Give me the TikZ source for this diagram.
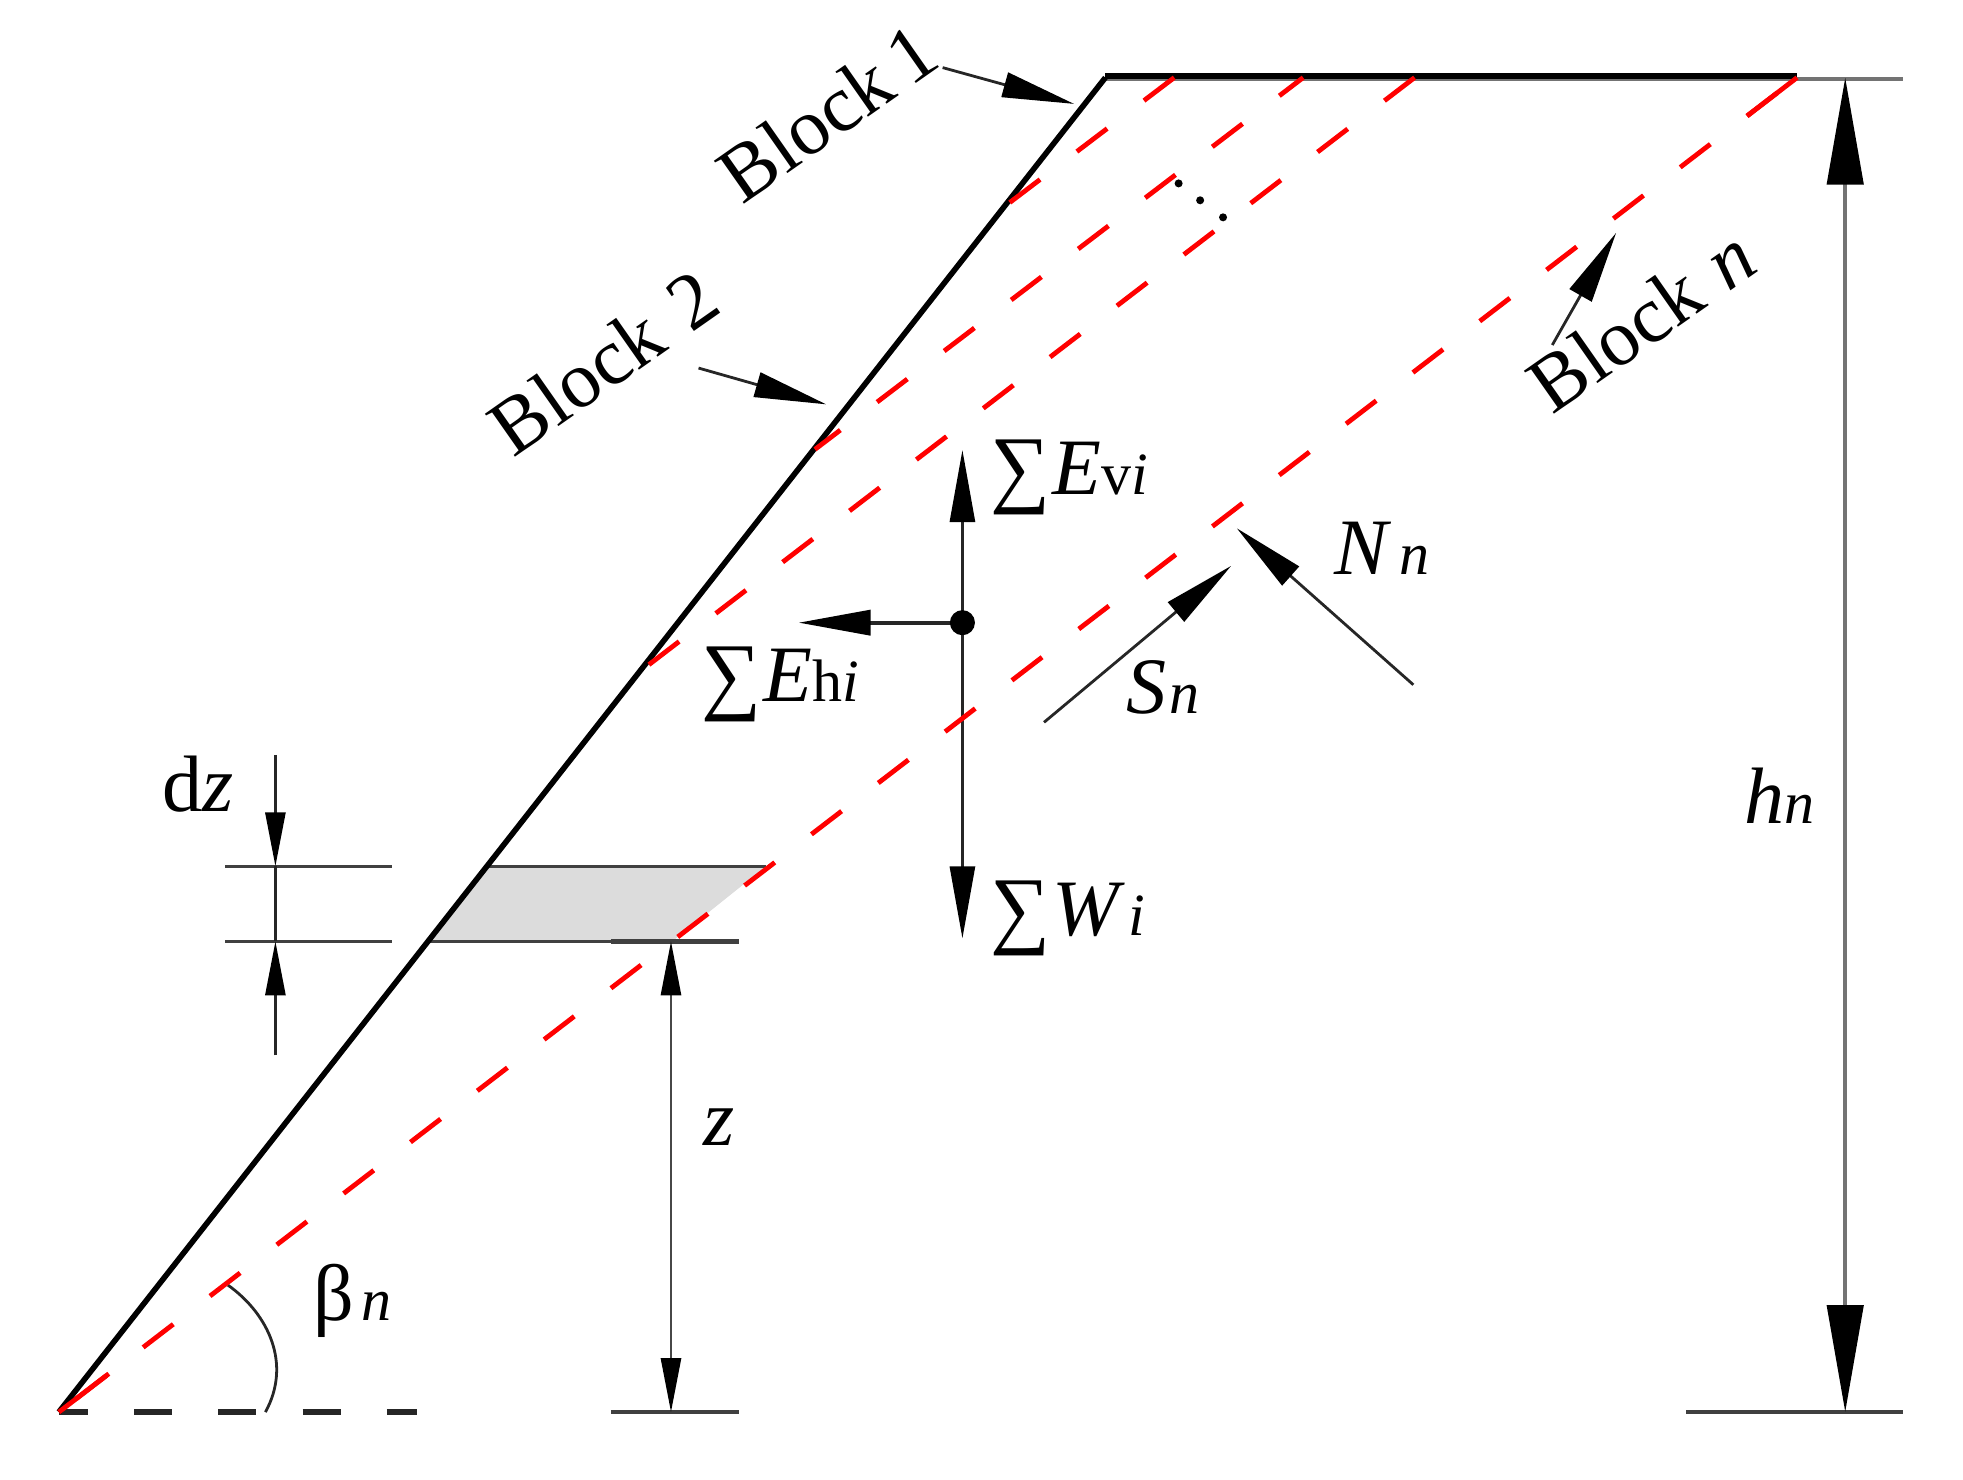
\documentclass[tikz,border=0pt]{standalone}
\usepackage{fontspec}
\usepackage{graphicx}
\setmainfont{Liberation Serif}
\usetikzlibrary{arrows.meta}
\definecolor{slabgray}{RGB}{220,220,220}
\newcommand{\bigS}{\raisebox{-2pt}{\resizebox*{60pt}{75pt}{∑}}}
\newcommand{\subsz}{\fontsize{60}{60}\selectfont}
\tikzset{
  x=1.2518pt,y=-1.2518pt,
  slope/.style={line width=5.6pt,black},
  thin line/.style={line width=3.3pt,black!75},
  slip/.style={line width=4.8pt,red,dash pattern=on 38pt off 46.25pt},
  slip end/.style={line width=4.8pt,red,dash pattern=on 63pt off 5000pt},
  bighead/.tip={Triangle[length=107pt,width=36pt,black]},
  midtip/.tip={Triangle[length=72pt,width=25pt,black]},
  midhead/.style={-{midtip},line width=2.8pt,black!85},
  smallhead/.tip={Triangle[length=54pt,width=20pt,black]},
  lab/.style={anchor=base west,inner sep=0pt,font=\fontsize{80}{84}\selectfont},
  blocklab/.style={lab,rotate=35},
}
\begin{document}
\begin{tikzpicture}
\useasboundingbox (0,0) rectangle (1568.1,1181.5);
% key points
\coordinate (toe) at (47,1128);
\coordinate (apex) at (883,62);
\coordinate (topn) at (1435.5,62);
\coordinate (topr) at (1520,63);
\coordinate (apexb) at (883,63);
\coordinate (t1) at (938,62);
\coordinate (t2) at (1041,62);
\coordinate (t3) at (1130,62);
\coordinate (b1) at (805,163);
\coordinate (b2) at (651,359);
\coordinate (b3) at (517,532);
% slab
\coordinate (sa) at (388,692);
\coordinate (sb) at (612,692);
\coordinate (sc) at (537,752);
\coordinate (sd) at (343,752);
\fill[slabgray] (sa) -- (sb) -- (sc) -- (sd) -- cycle;
\coordinate (se) at (590,752);
\draw[thin line] (sa) -- (sb);
\draw[thin line] (sd) -- (se);
% dz
\coordinate (dl1) at (180,692);
\coordinate (dr1) at (313,692);
\coordinate (dl2) at (180,752);
\coordinate (dr2) at (313,752);
\draw[thin line] (dl1) -- (dr1);
\draw[thin line] (dl2) -- (dr2);
\coordinate (dzt) at (220,603);
\coordinate (dzb) at (220,843);
\coordinate (dza) at (220,692);
\coordinate (dzc) at (220,752);
\draw[-{smallhead},line width=2.8pt,black!85] (dzt) -- (dza);
\draw[-{smallhead},line width=2.8pt,black!85] (dzb) -- (dzc);
\draw[line width=2.8pt,black!85] (dza) -- (dzc);
% z
\coordinate (zt) at (536,752);
\coordinate (zb) at (536,1128);
\coordinate (zl) at (488,1128);
\coordinate (zr) at (590,1128);
\coordinate (ztl) at (488,752);
\draw[line width=4.4pt,black!75] (ztl) -- (se);
\draw[thin line] (zl) -- (zr);
\draw[{smallhead}-{smallhead},line width=2.8pt,black!72] (zt) -- (zb);
% hn
\coordinate (ht) at (1474,62);
\coordinate (hb) at (1474,1128);
\coordinate (hl) at (1347,1128);
\coordinate (hr) at (1520,1128);
\draw[line width=3.5pt,black!55] (apexb) -- (topr);
\draw[thin line] (hl) -- (hr);
\draw[{bighead}-{bighead},line width=4.5pt,black!55] (ht) -- (hb);
% baseline
\coordinate (bl) at (333,1128);
\draw[line width=5.6pt,black!85,dash pattern=on 38pt off 46.25pt,dash phase=9pt] (toe) -- (bl);
% beta arc
\coordinate (arcs) at (182,1026.5);
\coordinate (arce) at (212,1128);
\draw[line width=2.8pt,black!85] (arcs) .. controls (215,1050) and (233,1090) .. (arce);
% central forces
\coordinate (g) at (768.8,497.4);
\coordinate (gu) at (768.8,359.5);
\coordinate (gd) at (768.8,749.6);
\coordinate (gl) at (638,497.4);
\draw[midhead] (g) -- (gu);
\draw[midhead] (g) -- (gd);
\draw[midhead,line width=3.8pt] (g) -- (gl);
\fill (g) circle (10);
% S N
\coordinate (ss) at (834,577);
\coordinate (se2) at (983.5,452);
\coordinate (ns) at (1129,547);
\coordinate (ne) at (988,422);
\draw[midhead] (ss) -- (se2);
\draw[midhead] (ns) -- (ne);
% block arrows
\coordinate (b1s) at (753,54);
\coordinate (b1e) at (858,83);
\coordinate (b2s) at (558,294);
\coordinate (b2e) at (660,323);
\coordinate (bns) at (1240,275.6);
\coordinate (bne) at (1291,186);
\draw[midhead] (b1s) -- (b1e);
\draw[midhead] (b2s) -- (b2e);
\draw[midhead] (bns) -- (bne);
% dots
\coordinate (d1) at (941.5,146.5);
\coordinate (d2) at (958.7,160);
\coordinate (d3) at (977,173.6);
\foreach \p in {d1,d2,d3} \fill (\p) circle (3.2);
% slope
\coordinate (topa) at (883,61);
\coordinate (topb) at (1435.5,61);
\draw[slope] (toe) -- (apex);
\draw[line width=6pt] (topa) -- (topb);
% red
\draw[slip,dash phase=59.25pt] (topn) -- (toe);
\draw[slip end] (topn) -- (toe);
\draw[slip end] (toe) -- (topn);
\draw[slip] (t1) -- (b1);
\draw[slip,dash phase=8pt] (t2) -- (b2);
\draw[slip] (t3) -- (b3);
% labels
\node[blocklab] (lb1) at (593,164) {Block\hspace{14pt}1};
\node[blocklab] (lb2) at (410,366) {Block\hspace{26pt}2};
\node[blocklab] (lbn) at (1240,332) {Block\hspace{24pt}\textit{n}};
\node[lab] (lev) at (791,395.4) {\bigS\hspace{2pt}\textit{E}{\subsz v\textit{i}}};
\node[lab] (leh) at (560,560) {\bigS\hspace{2pt}\textit{E}{\subsz h\textit{i}}};
\node[lab] (lw) at (791,747) {\bigS\hspace{2pt}\textit{W}\hspace{3pt}{\subsz\textit{i}}};
\node[lab] (ls) at (900,569.8) {\textit{S}\hspace{3pt}{\subsz\textit{n}}};
\node[lab] (ln) at (1066,459.3) {\textit{N}\hspace{8pt}{\subsz\textit{n}}};
\node[lab] (lh) at (1393,658) {\textit{h}{\subsz\textit{n}}};
\node[lab] (lz) at (562,915) {\textit{z}};
\node[lab] (ldz) at (130,648) {d\textit{z}};
\node[lab] (lbeta) at (250,1055) {β\hspace{8pt}{\subsz\textit{n}}};
\end{tikzpicture}
\end{document}
